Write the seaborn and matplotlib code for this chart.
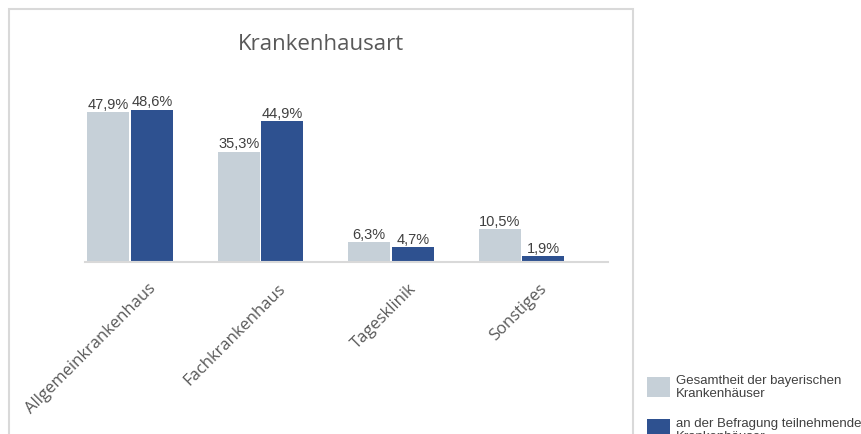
import pandas as pd
import seaborn as sns
import matplotlib.pyplot as plt
from matplotlib.patches import Rectangle
from matplotlib.transforms import ScaledTranslation

# Daten aus der Grafik
kategorien = ["Allgemeinkrankenhaus", "Fachkrankenhaus", "Tagesklinik", "Sonstiges"]
gesamt = [47.9, 35.3, 6.3, 10.5]
teilnehmer = [48.6, 44.9, 4.7, 1.9]
serien = ["Gesamtheit der bayerischen\nKrankenhäuser",
          "an der Befragung teilnehmende\nKrankenhäuser"]
farben = ["#c6d0d8", "#2e5190"]

df = pd.DataFrame({
    "Kategorie": kategorien * 2,
    "Wert": gesamt + teilnehmer,
    "Serie": [serien[0]] * 4 + [serien[1]] * 4,
})

sns.set_style("white")
fig = plt.figure(figsize=(8.62, 4.35), dpi=100)
W, H = 862, 435
ax = fig.add_axes([85 / W, (H - 263) / H, (608 - 85) / W, 156.5 / H])

sns.barplot(data=df, x="Kategorie", y="Wert", hue="Serie", palette=farben,
            width=0.67, gap=0.045, linewidth=0, saturation=1, ax=ax)

# Werte über den Balken
for cont in ax.containers:
    ax.bar_label(cont, labels=[f"{v:.1f}%".replace(".", ",") for v in cont.datavalues],
                 padding=1, fontsize=10.5, color="#404040", family="Liberation Sans")

ax.set_xlim(-0.345, 3.663)
ax.set_ylim(0, 50)
ax.set_xlabel("")
ax.set_ylabel("")
ax.set_yticks([])
for s in ["top", "right", "left"]:
    ax.spines[s].set_visible(False)
ax.spines["bottom"].set_color("#d9d9d9")
ax.spines["bottom"].set_linewidth(1.5)

ax.tick_params(axis="x", length=0, pad=17)
ax.set_xticks(range(len(kategorien)))
ax.set_xticklabels(kategorien, rotation=45, ha="right", va="center",
                   rotation_mode="anchor", fontsize=12, color="#595959",
                   family="Open Sans")
offset = ScaledTranslation(23 / 100, 0, fig.dpi_scale_trans)
for lbl in ax.get_xticklabels():
    lbl.set_transform(lbl.get_transform() + offset)

# Legende außerhalb
handles, labels = ax.get_legend_handles_labels()
ax.get_legend().remove()
leg = fig.legend(handles, labels, loc="upper left",
                 bbox_to_anchor=(647 / W, 1 - 375 / H), frameon=False,
                 prop={"family": "Liberation Sans", "size": 9.5},
                 handlelength=1.74, handleheight=2.0, handletextpad=0.45,
                 labelspacing=1.3, borderpad=0, borderaxespad=0)
for t in leg.get_texts():
    t.set_color("#404040")
    t.set_linespacing(1.15)

# Titel
fig.text(321 / W, 1 - 45 / H, "Krankenhausart", ha="center", va="center",
         fontsize=16, color="#595959", family="Open Sans")

# Rahmen des Diagrammbereichs
fig.add_artist(Rectangle((9 / W, -0.05), (633 - 9) / W, (H - 10) / H + 0.05,
                         transform=fig.transFigure, fill=False,
                         edgecolor="#d9d9d9", linewidth=1.5))

fig.savefig("out.png", dpi=100)
